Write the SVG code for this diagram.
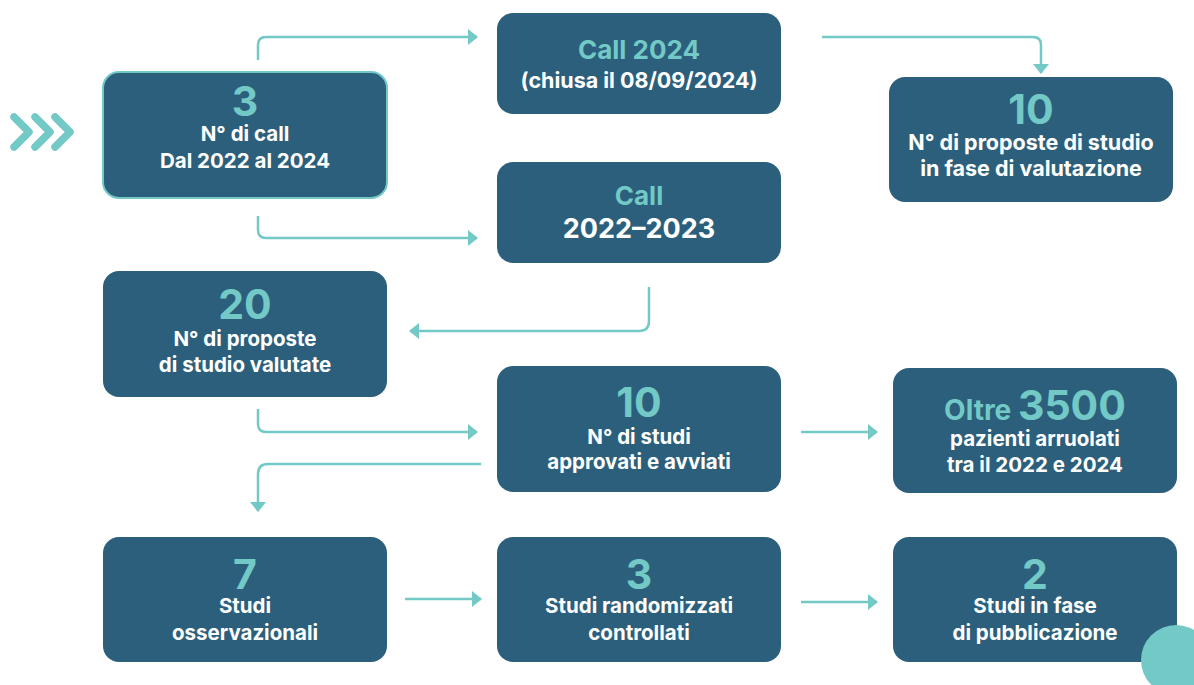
<svg xmlns="http://www.w3.org/2000/svg" width="1194" height="685" viewBox="0 0 1194 685">
<style>
.box{fill:#2c5f7c}
.num{font-family:Inter,"Noto Sans",sans-serif;font-weight:700;fill:#72c9c6;text-anchor:middle;font-size:41px}
.lbl{font-family:Inter,"Noto Sans",sans-serif;font-weight:700;fill:#ffffff;text-anchor:middle;font-size:20.5px}
.con{fill:none;stroke:#72c9c6;stroke-width:2.5}
</style>
<defs>
<marker id="ah" viewBox="0 0 10 16" refX="9" refY="8" markerWidth="10" markerHeight="16" markerUnits="userSpaceOnUse" orient="auto">
<path d="M0,0 L10,8 L0,16 Z" fill="#72c9c6"/>
</marker>
</defs>
<rect width="1194" height="685" fill="#ffffff"/>
<g id="chevrons" fill="none" stroke="#72c9c6" stroke-width="7.5" stroke-linecap="round" stroke-linejoin="round">
<path d="M14,117 L29,132 L14,147"/>
<path d="M35,117 L50,132 L35,147"/>
<path d="M55,117 L70,132 L55,147"/>
</g>
<g id="connectors">
<path class="con" d="M258,60 V45 Q258,37 266,37 H477" marker-end="url(#ah)"/>
<path class="con" d="M822,37 H1033 Q1041,37 1041,45 V73" marker-end="url(#ah)"/>
<path class="con" d="M258,216 V230 Q258,238 266,238 H477" marker-end="url(#ah)"/>
<path class="con" d="M649,287 V321 Q649,331 639,331 H410" marker-end="url(#ah)"/>
<path class="con" d="M258,409 V424 Q258,432 266,432 H477" marker-end="url(#ah)"/>
<path class="con" d="M481,464 H268 Q258,464 258,474 V511" marker-end="url(#ah)"/>
<path class="con" d="M801,432 H877" marker-end="url(#ah)"/>
<path class="con" d="M405,599 H481" marker-end="url(#ah)"/>
<path class="con" d="M801,602 H877" marker-end="url(#ah)"/>
</g>
<g id="n1">
<rect class="box" x="103" y="72" width="284" height="126" rx="16" stroke="#72c9c6" stroke-width="2"/>
<text class="num" x="245" y="116">3</text>
<text class="lbl" x="245" y="141">N° di call</text>
<text class="lbl" x="245" y="168">Dal 2022 al 2024</text>
</g>
<g id="n2">
<rect class="box" x="497" y="13" width="284" height="101" rx="16"/>
<text class="num" x="639" y="59" style="font-size:26px">Call 2024</text>
<text class="lbl" x="639" y="88" style="font-size:21.5px">(chiusa il 08/09/2024)</text>
</g>
<g id="n3">
<rect class="box" x="889" y="77" width="284" height="125" rx="16"/>
<text class="num" x="1031" y="124">10</text>
<text class="lbl" x="1031" y="150" style="font-size:21.5px">N° di proposte di studio</text>
<text class="lbl" x="1031" y="176" style="font-size:21.5px">in fase di valutazione</text>
</g>
<g id="n4">
<rect class="box" x="497" y="162" width="284" height="101" rx="16"/>
<text class="num" x="639" y="205" style="font-size:26px">Call</text>
<text class="lbl" x="639" y="238" style="font-size:27px">2022–2023</text>
</g>
<g id="n5">
<rect class="box" x="103" y="271" width="284" height="126" rx="16"/>
<text class="num" x="245" y="319">20</text>
<text class="lbl" x="245" y="346">N° di proposte</text>
<text class="lbl" x="245" y="372">di studio valutate</text>
</g>
<g id="n6">
<rect class="box" x="497" y="366" width="284" height="126" rx="16"/>
<text class="num" x="639" y="417">10</text>
<text class="lbl" x="639" y="444">N° di studi</text>
<text class="lbl" x="639" y="469">approvati e avviati</text>
</g>
<g id="n7">
<rect class="box" x="893" y="368" width="284" height="125" rx="16"/>
<text class="num" x="1035" y="420"><tspan style="font-size:28px">Oltre </tspan>3500</text>
<text class="lbl" x="1035" y="446">pazienti arruolati</text>
<text class="lbl" x="1035" y="472">tra il 2022 e 2024</text>
</g>
<g id="n8">
<rect class="box" x="103" y="537" width="284" height="125" rx="16"/>
<text class="num" x="245" y="589">7</text>
<text class="lbl" x="245" y="613">Studi</text>
<text class="lbl" x="245" y="640">osservazionali</text>
</g>
<g id="n9">
<rect class="box" x="497" y="537" width="284" height="125" rx="16"/>
<text class="num" x="639" y="589">3</text>
<text class="lbl" x="639" y="613">Studi randomizzati</text>
<text class="lbl" x="639" y="640">controllati</text>
</g>
<g id="n10">
<rect class="box" x="893" y="537" width="284" height="125" rx="16"/>
<text class="num" x="1035" y="589">2</text>
<text class="lbl" x="1035" y="613">Studi in fase</text>
<text class="lbl" x="1035" y="640">di pubblicazione</text>
</g>
<circle cx="1176" cy="660" r="35" fill="#72c9c6"/>
</svg>
